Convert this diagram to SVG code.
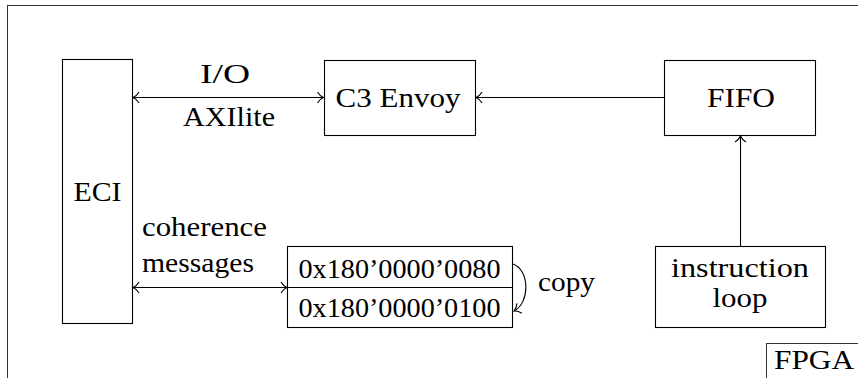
<svg xmlns="http://www.w3.org/2000/svg" width="858" height="378" viewBox="0 0 858 378">
<defs>
<style>
.box{fill:none;stroke:#000;stroke-width:1.1}
.frame{fill:none;stroke:#333;stroke-width:1}
.t{font-family:'Liberation Serif','Times New Roman',serif;font-size:28px;fill:#000}
.c{text-anchor:middle}
.ln{fill:none;stroke:#000;stroke-width:1.1}
</style>
<marker id="to" viewBox="-8 -7 10 14" markerWidth="10" markerHeight="14" refX="0" refY="0" orient="auto-start-reverse" markerUnits="userSpaceOnUse">
<path d="M-6,-5.5 C-4,-2 -1.5,-0.6 0,0 C-1.5,0.6 -4,2 -6,5.5" fill="none" stroke="#000" stroke-width="1.1"/>
</marker>
</defs>
<rect width="858" height="378" fill="#fff"/>
<g id="frame">
<rect class="frame" x="7.5" y="5.5" width="900" height="500"/>
</g>
<g id="fpga">
<rect class="frame" x="766.5" y="343.5" width="200" height="100"/>
<text class="t" x="774" y="369" textLength="80" lengthAdjust="spacingAndGlyphs">FPGA</text>
</g>
<g id="eci">
<rect class="box" x="62.5" y="59.5" width="70" height="264"/>
<text class="t c" x="97.5" y="201" textLength="48" lengthAdjust="spacingAndGlyphs">ECI</text>
</g>
<g id="c3envoy">
<rect class="box" x="324.5" y="60.5" width="151" height="75"/>
<text class="t c" x="398" y="107" textLength="125" lengthAdjust="spacingAndGlyphs">C3 Envoy</text>
</g>
<g id="fifo">
<rect class="box" x="664.5" y="60.5" width="151" height="75"/>
<text class="t c" x="741" y="107" textLength="68" lengthAdjust="spacingAndGlyphs">FIFO</text>
</g>
<g id="instruction-loop">
<rect class="box" x="655.5" y="246.5" width="170" height="81"/>
<text class="t c" x="740" y="277" textLength="138" lengthAdjust="spacingAndGlyphs">instruction</text>
<text class="t c" x="740" y="307" textLength="55" lengthAdjust="spacingAndGlyphs">loop</text>
</g>
<g id="addresses">
<rect class="box" x="287.5" y="246.5" width="225" height="81"/>
<line class="ln" x1="287.5" y1="287.5" x2="512.5" y2="287.5"/>
<text class="t c" x="399.5" y="278" textLength="202" lengthAdjust="spacingAndGlyphs">0x180’0000’0080</text>
<text class="t c" x="399.5" y="317" textLength="202" lengthAdjust="spacingAndGlyphs">0x180’0000’0100</text>
</g>
<g id="connectors">
<line class="ln" x1="133" y1="97.5" x2="323.5" y2="97.5" marker-start="url(#to)" marker-end="url(#to)"/>
<line class="ln" x1="664" y1="97.5" x2="476" y2="97.5" marker-end="url(#to)"/>
<line class="ln" x1="740.5" y1="246" x2="740.5" y2="136" marker-end="url(#to)"/>
<line class="ln" x1="133" y1="287.5" x2="287" y2="287.5" marker-start="url(#to)" marker-end="url(#to)"/>
<path class="ln" d="M513,264 C530,270 530,303 514,311" marker-end="url(#to)"/>
</g>
<g id="labels">
<text class="t c" x="225" y="83" textLength="50" lengthAdjust="spacingAndGlyphs">I/O</text>
<text class="t c" x="229" y="126" textLength="92" lengthAdjust="spacingAndGlyphs">AXIlite</text>
<text class="t" x="142" y="236" textLength="125" lengthAdjust="spacingAndGlyphs">coherence</text>
<text class="t" x="142" y="272" textLength="112" lengthAdjust="spacingAndGlyphs">messages</text>
<text class="t" x="538" y="291" textLength="57" lengthAdjust="spacingAndGlyphs">copy</text>
</g>
</svg>
